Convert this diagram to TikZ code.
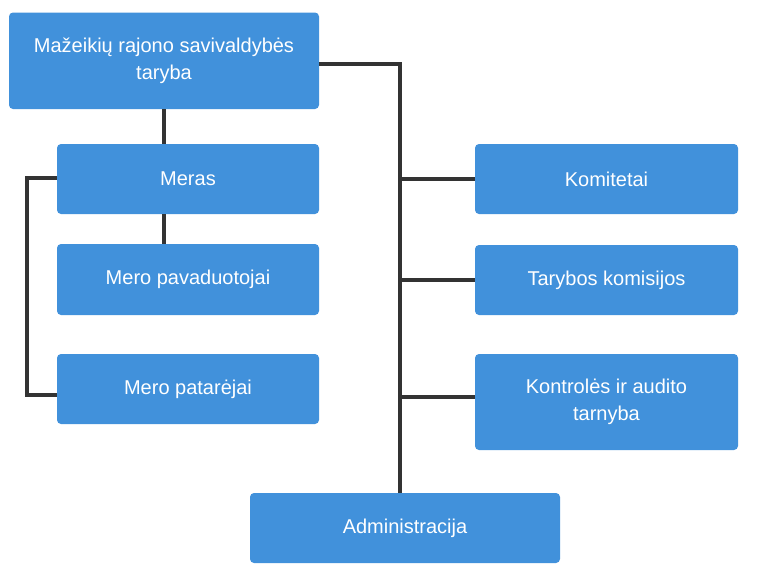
\documentclass[tikz,border=0pt]{standalone}
\usepackage{fontspec}
\setmainfont{Liberation Sans}
\definecolor{boxblue}{HTML}{4191DB}
\definecolor{linegray}{HTML}{333333}
\tikzset{
  unit/.style={draw=none, fill=boxblue, rounded corners=4pt, text=white, align=center,
    font=\fontsize{20}{27}\selectfont, inner sep=0pt, minimum width=262pt, minimum height=70pt},
  link/.style={draw=linegray, line width=4pt}
}
\begin{document}
\begin{tikzpicture}[x=1pt, y=-1pt]
		% Canvas
		\useasboundingbox (0,0) rectangle (769,581);
		
		% Left column
		\node[unit, minimum width=310pt, minimum height=96.5pt] (taryba) at (164,60.75) {Mažeikių rajono savivaldybės\\taryba};
		\node[unit] (meras) at (188,179) {Meras};
		\node[unit, minimum height=71pt] (pavad) at (188,279.5) {Mero pavaduotojai};
		\node[unit] (patar) at (188,389) {Mero patarėjai};
		
		% Right column
		\node[unit, minimum width=263pt] (komitetai) at (606.5,179) {Komitetai};
		\node[unit, minimum width=263pt] (komisijos) at (606.5,280) {Tarybos komisijos};
		\node[unit, minimum width=263pt, minimum height=96pt] (kontrole) at (606.5,402) {Kontrolės ir audito\\tarnyba};
		
		% Bottom
		\node[unit, minimum width=310pt] (admin) at (405,528) {Administracija};
		
		\coordinate (trunk) at (400,0);
		\coordinate (bracket) at (27,0);
		
		% Draw connectors
		\draw[link] ([yshift=-3pt]taryba.east) -- ([yshift=-3pt]taryba.east -| trunk) -- (trunk |- admin.north);
		\draw[link] (taryba.south) -- (taryba.south |- meras.north);
		\draw[link] (taryba.south |- meras.south) -- (taryba.south |- pavad.north);
		\draw[link] ([yshift=1pt]meras.west) -- ([yshift=1pt]meras.west -| bracket) |- ([yshift=-6pt]patar.west);
		\draw[link] (trunk |- komitetai.west) -- (komitetai.west);
		\draw[link] (trunk |- komisijos.west) -- (komisijos.west);
		\draw[link] ([yshift=5pt]kontrole.west -| trunk) -- ([yshift=5pt]kontrole.west);
		
	\end{tikzpicture}
\end{document}
